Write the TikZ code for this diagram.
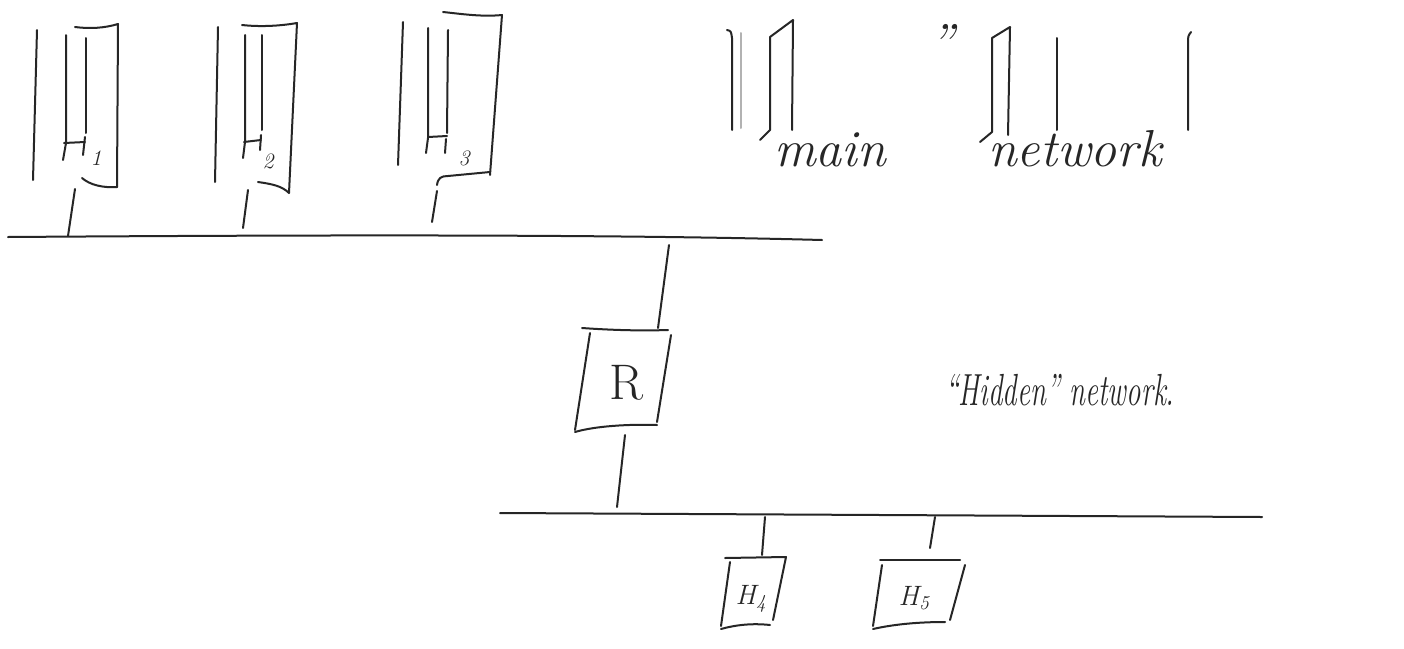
\documentclass[tikz,border=0pt]{standalone}
\usepackage{fontspec}
\usepackage{graphicx}
\begin{document}
\begin{tikzpicture}[x=1pt,y=-1pt,
  pen/.style={line width=2pt,line cap=round,line join=round,draw=black!85},
  faint/.style={line width=2pt,line cap=round,draw=black!30},
  hand/.style={font=\fontsize{52}{56}\selectfont\itshape,inner sep=0pt,text=black!85},
  sub/.style={font=\fontsize{22}{26}\selectfont\itshape,inner sep=0pt,text=black!85},
  lbl/.style={font=\fontsize{28}{32}\selectfont\itshape,inner sep=0pt,text=black!85}]
\useasboundingbox[fill=white] (0,0) rectangle (1404,648);

% ---------- main network bus ----------
\coordinate (busAw) at (8,237);
\coordinate (busAe) at (822,240);
\draw[pen] (busAw) .. controls (300,235) and (600,234) .. (busAe);

% ---------- H1 ----------
\draw[pen] (37,30) -- (33,180);
\draw[pen] (66,35) -- (66,143) -- (63,160);
\draw[pen] (86,38) -- (86,133);
\draw[pen] (64,143) -- (85,142);
\draw[pen] (85,137) -- (83,155);
\draw[pen] (75,27) .. controls (90,29) and (105,28) .. (118,24) -- (117,187);
\draw[pen] (82,178) .. controls (90,185) and (103,188) .. (117,187);
\node[sub] (h1sub) at (96,158) {1};
\coordinate (h1c) at (75,189);
\coordinate (h1b) at (68,236);
\draw[pen] (h1c) -- (h1b);

% ---------- H2 ----------
\draw[pen] (218,27) -- (215,182);
\draw[pen] (245,35) -- (245,142) -- (243,158);
\draw[pen] (262,35) -- (262,130);
\draw[pen] (244,142) -- (261,140);
\draw[pen] (261,135) -- (260,150);
\draw[pen] (242,25) .. controls (260,27) and (280,26) .. (297,23) -- (289,193);
\draw[pen] (258,182) .. controls (272,184) and (282,186) .. (289,193);
\node[sub] (h2sub) at (268,161) {2};
\coordinate (h2c) at (248,190);
\coordinate (h2b) at (243,228);
\draw[pen] (h2c) -- (h2b);

% ---------- H3 ----------
\draw[pen] (403,22) -- (398,165);
\draw[pen] (428,28) -- (428,138) -- (426,153);
\draw[pen] (448,30) -- (447,133);
\draw[pen] (428,137) -- (447,136);
\draw[pen] (446,139) -- (445,153);
\draw[pen] (443,12) .. controls (462,14) and (482,17) .. (502,15) -- (490,175);
\draw[pen] (437,185) .. controls (438,178) and (441,176) .. (448,176) -- (490,172);
\node[sub] (h3sub) at (464,158) {3};
\coordinate (h3c) at (437,191);
\coordinate (h3b) at (432,222);
\draw[pen] (h3c) -- (h3b);

% ---------- "main" network label with strokes ----------
\draw[pen] (727,30) .. controls (731,31) .. (732,38) -- (732,130);
\draw[faint] (741,33) -- (741,128);
\draw[pen] (760,140) -- (770,130) -- (770,37) -- (793,20) -- (792,130);
\node[hand,anchor=base west] (tmain) at (774,166) {main};
\node[hand] (tquote) at (942,42) {''};
\draw[pen] (980,142) -- (992,132) -- (992,38) -- (1010,27) -- (1008,135);
\draw[pen] (1057,38) -- (1057,130);
\draw[pen] (1191,32) .. controls (1188,36) .. (1188,44) -- (1188,130);
\node[hand,anchor=base west] (tnet) at (988,166) {network};

% ---------- R ----------
\coordinate (rtop) at (669,245);
\coordinate (rin) at (658,328);
\draw[pen] (rtop) -- (rin);
\draw[pen] (582,328) .. controls (610,330) and (640,331) .. (668,330);
\draw[pen] (590,333) -- (575,430);
\draw[pen] (671,335) -- (657,422);
\draw[pen] (575,432) .. controls (595,426) and (630,424) .. (657,425);
\node[font=\fontsize{50}{52}\selectfont,inner sep=0pt,text=black!85] (R) at (626,383) {R};
\coordinate (rout) at (625,435);
\coordinate (rbus) at (617,507);
\draw[pen] (rout) -- (rbus);

% ---------- hidden network bus ----------
\coordinate (busBw) at (500,513);
\coordinate (busBe) at (1262,517);
\draw[pen] (busBw) -- (busBe);

% ---------- H4 ----------
\coordinate (h4b) at (765,517);
\coordinate (h4c) at (762,555);
\draw[pen] (h4b) -- (h4c);
\draw[pen] (725,558) -- (786,557) -- (773,620);
\draw[pen] (730,562) -- (721,626);
\draw[pen] (721,629) .. controls (735,625) and (752,623) .. (770,625);
\node[lbl] (H4) at (751,599) {H\textsubscript{4}};

% ---------- H5 ----------
\coordinate (h5b) at (935,517);
\coordinate (h5c) at (930,548);
\draw[pen] (h5b) -- (h5c);
\draw[pen] (880,560) -- (960,560);
\draw[pen] (965,565) -- (950,620);
\draw[pen] (882,565) -- (873,626);
\draw[pen] (873,629) .. controls (895,624) and (920,622) .. (945,622);
\node[lbl] (H5) at (914,598) {H\textsubscript{5}};

% ---------- hidden label ----------
\node[font=\fontsize{36}{40}\selectfont\itshape,inner sep=0pt,text=black!85,anchor=base west] (thidden) at (945,405) {\scalebox{0.8}[1.25]{``Hidden'' network.}};
\end{tikzpicture}
\end{document}
